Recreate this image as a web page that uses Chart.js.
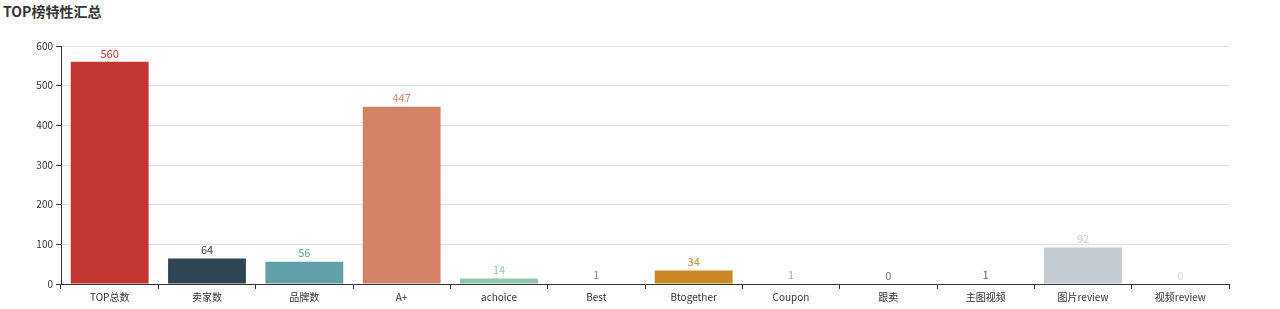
<!DOCTYPE html>
<html>
<head>
<meta charset="utf-8">
<script src="https://cdn.jsdelivr.net/npm/chart.js@4/dist/chart.umd.min.js"></script>
<style>
    html, body { margin: 0; padding: 0; background: #fff; }
    #wrap { position: relative; width: 1280px; height: 309px; }
    #title {
        position: absolute; left: 3px; top: 1px;
        font-family: "Noto Sans CJK SC", "Noto Sans", sans-serif;
        font-size: 14px; font-weight: bold; color: #333;
    }
    canvas { position: absolute; left: 0; top: 0; }
</style>
</head>
<body>
<div id="wrap">
    <div id="title">TOP榜特性汇总</div>
    <canvas id="topChart" width="1280" height="309"></canvas>
</div>
<script>
var categories = ['TOP总数', '卖家数', '品牌数', 'A+', 'achoice', 'Best', 'Btogether', 'Coupon', '跟卖', '主图视频', '图片review', '视频review'];
var values = [560, 64, 56, 447, 14, 1, 34, 1, 0, 1, 92, 0];
var colors = ['#c23531', '#2f4554', '#61a0a8', '#d48265', '#91c7ae', '#749f83', '#ca8622', '#bda29a', '#6e7074', '#546570', '#c4ccd3', '#d9dde2'];
var yTicks = [0, 100, 200, 300, 400, 500, 600];

var fontFamily = '"Noto Sans CJK SC", "Noto Sans", sans-serif';

// value labels above each bar
var valueLabels = {
    id: 'valueLabels',
    afterDatasetsDraw: function (chart) {
        var ctx = chart.ctx;
        var meta = chart.getDatasetMeta(0);
        ctx.save();
        ctx.font = '11px ' + fontFamily;
        ctx.textAlign = 'center';
        ctx.textBaseline = 'bottom';
        meta.data.forEach(function (bar, i) {
            ctx.fillStyle = colors[i];
            ctx.fillText(values[i], bar.x, bar.y - 3);
        });
        ctx.restore();
    }
};

new Chart(document.getElementById('topChart'), {
    type: 'bar',
    data: {
        labels: categories,
        datasets: [{
            data: values,
            backgroundColor: colors,
            categoryPercentage: 0.8,
            barPercentage: 1
        }]
    },
    options: {
        responsive: false,
        animation: false,
        layout: { padding: { top: 46, right: 51, left: 0, bottom: 0 } },
        plugins: {
            legend: { display: false },
            tooltip: { enabled: false }
        },
        scales: {
            x: {
                offset: true,
                grid: {
                    offset: true,
                    drawOnChartArea: false,
                    tickLength: 5,
                    tickColor: '#333'
                },
                border: { color: '#333' },
                ticks: {
                    color: '#333',
                    font: { family: fontFamily, size: 10 },
                    maxRotation: 0,
                    autoSkip: false,
                    padding: 2
                },
                afterFit: function (scale) { scale.height = 25; }
            },
            y: {
                min: 0,
                max: 600,
                afterBuildTicks: function (scale) {
                    scale.ticks = yTicks.map(function (v) { return { value: v }; });
                },
                grid: {
                    color: '#e0e0e0',
                    tickLength: 5,
                    tickColor: '#333'
                },
                border: { color: '#333' },
                ticks: {
                    color: '#333',
                    font: { family: fontFamily, size: 10 },
                    padding: 3
                },
                afterFit: function (scale) { scale.width = 61; }
            }
        }
    },
    plugins: [valueLabels]
});
</script>
</body>
</html>
